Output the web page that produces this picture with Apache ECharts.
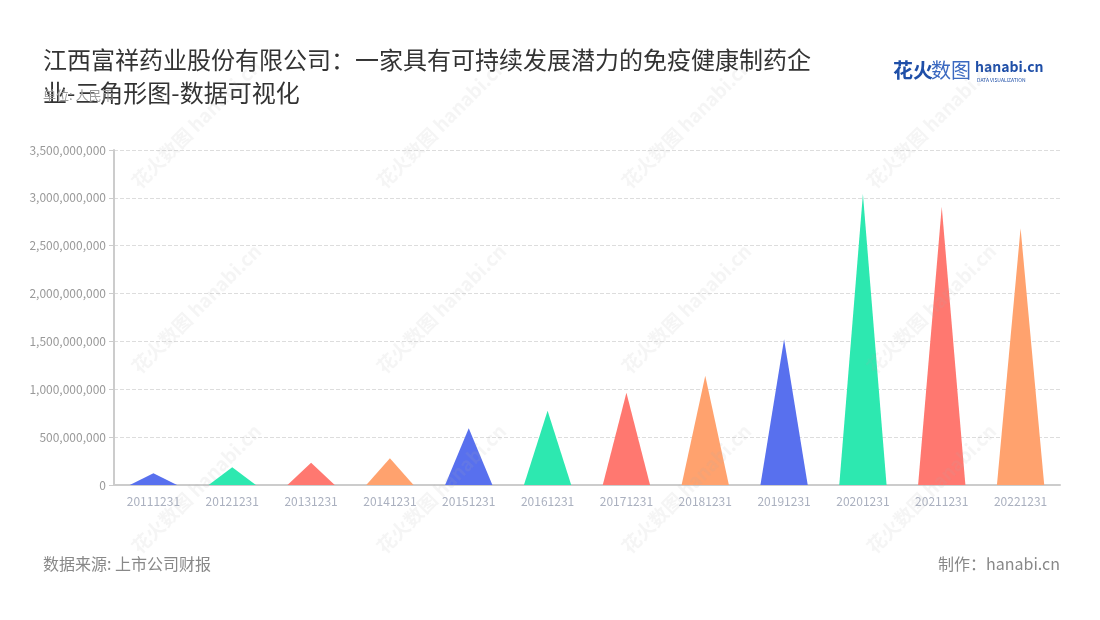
<!DOCTYPE html>
<html><head><meta charset="utf-8">
<script src="https://cdn.jsdelivr.net/npm/echarts@6/dist/echarts.min.js"></script>
<style>html,body{margin:0;padding:0;background:#fff}#c{width:1100px;height:620px}</style>
</head><body><div id="c"></div>
<script>
const categories = ['20111231','20121231','20131231','20141231','20151231','20161231','20171231','20181231','20191231','20201231','20211231','20221231'];
const values = [122000000,185000000,233000000,279000000,592000000,776000000,964000000,1142000000,1522000000,3040000000,2908000000,2682000000];
const palette = ['#5870ee','#2de8b0','#ff7870','#ffa26e'];
const titleText = '江西富祥药业股份有限公司：一家具有可持续发展潜力的免疫健康制药企\n业-三角形图-数据可视化';
const FONT = '"Noto Sans CJK SC","Noto Sans",sans-serif';

const chart = echarts.init(document.getElementById('c'));
const wm = [];
const wmPos = [[135,185],[380,185],[625,185],[870,185],[135,370],[380,370],[625,370],[870,370],[135,550],[380,550],[625,550],[870,550]];
wmPos.forEach(p => {
  wm.push({type:'text', x:p[0], y:p[1], rotation:Math.PI/4, silent:true, z:100,
    style:{text:'花火数图 hanabi.cn', fill:'rgba(170,170,170,0.12)', font:'bold 19px '+FONT, textVerticalAlign:'middle'}});
});
chart.setOption({
  animation:false,
  textStyle:{fontFamily:FONT},
  title:[{text:titleText, left:38, top:38, textStyle:{fontSize:24, fontWeight:'normal', color:'#333', lineHeight:33, fontFamily:FONT}},
         {text:'单位: 人民币', left:38, top:84, textStyle:{fontSize:13, fontWeight:'normal', color:'#999', fontFamily:FONT}}],
  grid:{left:114, right:40, top:150, bottom:135},
  xAxis:{type:'category', data:categories,
    axisLine:{lineStyle:{color:'#ccc', width:2}}, axisTick:{alignWithLabel:true, lineStyle:{color:'#ccc'}},
    axisLabel:{color:'#aab0bf', fontSize:12, margin:10}},
  yAxis:{type:'value', min:0, max:3500000000, interval:500000000,
    axisLine:{show:true, lineStyle:{color:'#ccc', width:2}}, axisTick:{show:true, lineStyle:{color:'#ccc'}},
    axisLabel:{color:'#999', fontSize:12, formatter:v=>v.toLocaleString('en-US')},
    splitLine:{lineStyle:{color:'#ddd', type:'dashed'}}},
  series:[{type:'pictorialBar', symbol:'triangle', barCategoryGap:'40%',
    data: values.map((v,i)=>({value:v, itemStyle:{color:palette[i%palette.length]}}))}],
  graphic: wm.concat([
    {type:'text', left:893, top:60, style:{text:'花火', fill:'#1f4fa8', font:'bold 20px '+FONT}},
    {type:'text', left:931, top:60, style:{text:'数图', fill:'#3a68c0', font:'20px '+FONT}},
    {type:'text', left:975, top:60, style:{text:'hanabi.cn', fill:'#1f4fa8', font:'bold 14px '+FONT}},
    {type:'text', left:977, top:78, style:{text:'DATA VISUALIZATION', fill:'#1f4fa8', font:'5px '+FONT}},
    {type:'text', left:43, top:556, style:{text:'数据来源: 上市公司财报', fill:'#888', font:'16px '+FONT}},
    {type:'text', right:40, top:556, style:{text:'制作：hanabi.cn', fill:'#888', font:'16px '+FONT}}
  ])
});
</script></body></html>
